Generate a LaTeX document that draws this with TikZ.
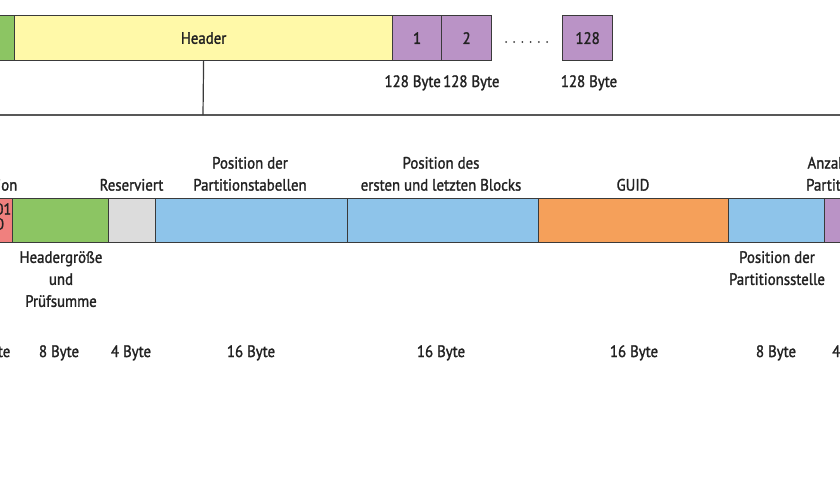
\documentclass[tikz,border=0pt]{standalone}
\usepackage{fontspec}
\setmainfont{PT Sans}[FakeStretch=0.9,FakeBold=1.5]
\definecolor{linec}{HTML}{3A3A3A}
\definecolor{txtc}{HTML}{222222}
\definecolor{cgreen}{HTML}{8CC563}
\definecolor{cyellow}{HTML}{FFF9A8}
\definecolor{cpurple}{HTML}{BA93C6}
\definecolor{cred}{HTML}{F0807E}
\definecolor{cgray}{HTML}{DCDCDC}
\definecolor{cblue}{HTML}{8EC4EA}
\definecolor{corange}{HTML}{F5A05A}
\begin{document}
\begin{tikzpicture}[x=1pt,y=-1pt,
  box/.style={draw=linec, line width=1.2pt, inner sep=0pt, anchor=north west, text=txtc,
    font=\fontsize{16.5}{22}\selectfont},
  topbox/.style={box, minimum height=45},
  lowbox/.style={box, minimum height=44},
  lbl/.style={inner sep=0pt, text=txtc, align=center, font=\fontsize{16.5}{22}\selectfont},
  sepline/.style={draw=linec!85, line width=2pt},
  conn/.style={draw=linec, line width=1.2pt},
  dotline/.style={draw=linec, line width=2pt, line cap=round, dash pattern=on 0pt off 8.2pt}]
\useasboundingbox (0,0) rectangle (840,480);
\clip (0,0) rectangle (840,480);

% top row
\node[topbox, fill=cgreen, minimum width=40] (tg) at (-26,15) {};
\node[topbox, fill=cyellow, minimum width=378] (hdr) at (14,15) {Header};
\node[topbox, fill=cpurple, minimum width=49] (p1) at (392,15) {1};
\node[topbox, fill=cpurple, minimum width=50] (p2) at (441,15) {2};
\node[topbox, fill=cpurple, minimum width=50] (p128) at (562,15) {128};
\coordinate (d1) at (506,42);
\coordinate (d2) at (548,42);
\draw[dotline] (d1) -- (d2);

\node[lbl, anchor=base east] (b1) at (441,87) {128 Byte};
\node[lbl, anchor=base west] (b2) at (443,87) {128 Byte};
\node[lbl, anchor=base] (b3) at (589,87) {128 Byte};

% separator and connector
\coordinate (hl) at (-5,115);
\coordinate (hr) at (845,115);
\coordinate (hj) at (203,115);
\draw[sepline] (hl) -- (hr);
\draw[conn] (hdr.south) -- (hj);

% bottom row
\node[lowbox, fill=cred, minimum width=52] (r0) at (-40,198) {};
\node[inner sep=0pt, text=txtc, font=\fontsize{16}{18}\selectfont, anchor=east] (r0a) at (11.5,209) {01};
\node[inner sep=0pt, text=txtc, font=\fontsize{16}{18}\selectfont] (r0b) at (0,224) {0};
\node[lowbox, fill=cgreen, minimum width=96] (g1) at (12,198) {};
\node[lowbox, fill=cgray, minimum width=47] (gr) at (108,198) {};
\node[lowbox, fill=cblue, minimum width=192] (bl1) at (155,198) {};
\node[lowbox, fill=cblue, minimum width=191] (bl2) at (347,198) {};
\node[lowbox, fill=corange, minimum width=190] (or) at (538,198) {};
\node[lowbox, fill=cblue, minimum width=96] (bl3) at (728,198) {};
\node[lowbox, fill=cpurple, minimum width=50] (pu) at (824,198) {};

% labels above
\node[lbl, anchor=south east] (tv) at (17.5,191) {Version};
\node[lbl, anchor=south] (tr) at (131.5,191) {Reserviert};
\node[lbl, anchor=south] (tpt) at (250,191) {Position der\\Partitionstabellen};
\node[lbl, anchor=south] (tpb) at (441,191) {Position des\\ersten und letzten Blocks};
\node[lbl, anchor=south] (tgu) at (633,191) {GUID};
\node[lbl, anchor=south west] (tan) at (806,191) {Anzahl der\\Partitionen};

% labels below
\node[lbl, anchor=north] (thg) at (61,251) {Headergröße\\und\\Prüfsumme};
\node[lbl, anchor=north] (tps) at (777,251) {Position der\\Partitionsstelle};

% byte sizes
\node[lbl, anchor=base east] (s0) at (10.5,357) {4 Byte};
\node[lbl, anchor=base] (s1) at (59,357) {8 Byte};
\node[lbl, anchor=base] (s2) at (131,357) {4 Byte};
\node[lbl, anchor=base] (s3) at (251,357) {16 Byte};
\node[lbl, anchor=base] (s4) at (441,357) {16 Byte};
\node[lbl, anchor=base] (s5) at (634,357) {16 Byte};
\node[lbl, anchor=base] (s6) at (776,357) {8 Byte};
\node[lbl, anchor=base west] (s7) at (832,357) {4 Byte};
\end{tikzpicture}
\end{document}
